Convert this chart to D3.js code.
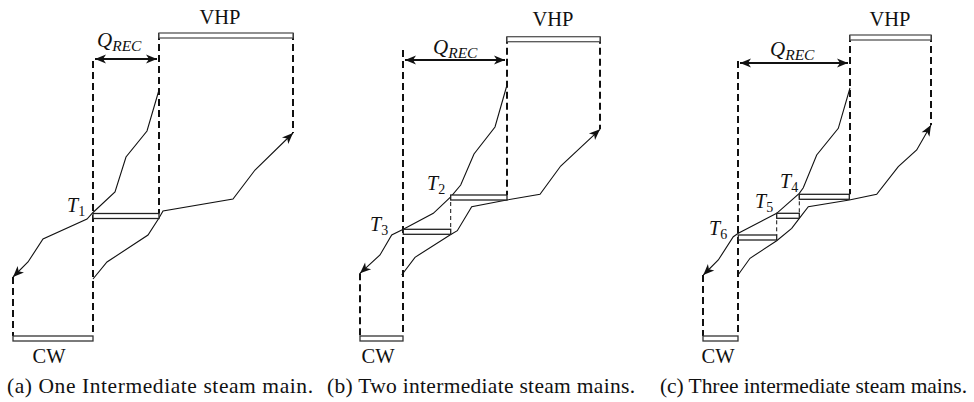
<!DOCTYPE html>
<html><head><meta charset="utf-8">
<script src="https://cdn.jsdelivr.net/npm/d3@7"></script>
<style>
body{margin:0;background:#fff}
svg{display:block}
text{font-family:"Liberation Serif","Times New Roman",serif;fill:#111}
</style>
</head><body><svg id="chart" width="974" height="402"></svg>
<script>
// ---------- data (Q = heat load units from CW start, T = temperature units) ----------
const captions = ["(a) One Intermediate steam main.", "(b) Two intermediate steam mains.", "(c) Three intermediate steam mains."];
const cwRange = [[0, 80], [0, 43], [0, 35]];
const cwLevel = [14, 14, 14];
const vhpRange = [[146, 280], [147, 240], [147, 228]];
const vhpLevel = [317, 313.3, 315];
const qrecRange = [[80, 146], [43, 147], [35, 147]];
const qrecLevel = [291, 290, 287];
const qrecGuideTop = [289, 300, 289];
const mainLabels = [["1"], ["2", "3"], ["4", "5", "6"]];
const mainRanges = [
  [[80, 146]],
  [[90.7, 147], [43.3, 90.7]],
  [[96.3, 146.3], [73.7, 96.3], [35.3, 73.7]]
];
const mainLevels = [[136.5], [155, 120.7], [155.7, 136.7, 115]];
const hotQ = [
  [146, 134, 113, 102, 80, 74, 30, 15, 0],
  [147, 135, 114, 100.7, 91, 73.3, 43.3, 31.7, 20, 0],
  [147, 135.3, 113.7, 100.3, 96.3, 73.7, 35.3, 30.3, 15.3, 0.3]
];
const hotT = [
  [260, 219, 193, 158, 137.5, 131, 111, 88, 73],
  [265, 223, 196, 165, 153.3, 136.7, 120.7, 115, 95, 76.7],
  [262, 221.7, 195, 162.3, 156.7, 136.7, 116.7, 113.3, 90, 75]
];
const coldQ = [
  [80, 94, 135, 146, 150, 220, 242, 280],
  [41.7, 55, 90, 97.3, 111.7, 146.7, 180, 200.7, 240],
  [34.3, 47, 73.7, 88.7, 96.3, 105.3, 146.3, 173.7, 195.3, 213.7, 228]
];
const coldT = [
  [71, 88, 115, 132, 139, 151, 180, 217],
  [75, 92.7, 115, 119.3, 143.3, 150, 155.7, 184, 220.7],
  [74, 91.7, 109.3, 121.7, 131.7, 143.3, 150, 155.7, 183.3, 200, 225]
];

// ---------- layout ----------
const panelLeft = [13, 360, 703];
const barH = 5;
const vhpLabelPos = [[220, 24], [553, 26], [890, 26]];
const cwLabelPos = [[49, 363], [378, 363], [718, 363]];
const qrecLabelPos = [[97, 47], [433, 53.5], [770, 55.5]];
const tLabelPos = [[[67, 212]], [[427, 190], [370, 231]], [[780, 188], [755, 207.5], [709, 235]]];
const captionPos = [[7, 393], [327, 393], [660, 393]];
const captionWidth = [306, 308, 307];

const svg = d3.select("#chart");
const defs = svg.append("defs");
defs.append("marker").attr("id", "ah").attr("viewBox", "-12 -6 13 12")
  .attr("refX", 0).attr("refY", 0).attr("markerWidth", 13).attr("markerHeight", 12)
  .attr("markerUnits", "userSpaceOnUse").attr("orient", "auto-start-reverse")
  .append("path").attr("d", "M0,0L-11,-4.5L-8,0L-11,4.5Z").attr("fill", "#111");

const y = d3.scaleLinear().domain([0, 320]).range([350, 30]);

captions.forEach((cap, p) => {
  const x = d3.scaleLinear().domain([0, 300]).range([panelLeft[p], panelLeft[p] + 300]);
  const g = svg.append("g");
  const line = d3.line().x(d => x(d[0])).y(d => y(d[1]));

  const dashed = (q, t0, t1, thin) => g.append("line")
    .attr("x1", x(q)).attr("x2", x(q)).attr("y1", y(t0)).attr("y2", y(t1))
    .attr("stroke", "#111").attr("stroke-width", thin ? 1 : 2)
    .attr("stroke-dasharray", thin ? "4,3" : "7,4");

  // guide dashed lines
  dashed(qrecRange[p][0], qrecGuideTop[p], cwLevel[p], false);
  dashed(vhpRange[p][0], vhpLevel[p], mainLevels[p][0], false);
  dashed(vhpRange[p][1], vhpLevel[p], coldT[p][coldT[p].length - 1], false);
  dashed(cwRange[p][0], hotT[p][hotT[p].length - 1], cwLevel[p], false);
  for (let i = 0; i < mainRanges[p].length - 1; i++) {
    dashed(mainRanges[p][i][0], mainLevels[p][i], mainLevels[p][i + 1], true);
  }

  // composite curves
  const hot = hotQ[p].map((q, i) => [q, hotT[p][i]]);
  const cold = coldQ[p].map((q, i) => [q, coldT[p][i]]);
  [hot, cold].forEach(pts => g.append("path").attr("d", line(pts))
    .attr("fill", "none").attr("stroke", "#111").attr("stroke-width", 1.1)
    .attr("marker-end", "url(#ah)"));

  // steam main bars
  const bar = (r, t, col) => g.append("rect")
    .attr("x", x(r[0])).attr("y", y(t)).attr("width", x(r[1]) - x(r[0])).attr("height", barH)
    .attr("fill", "#fff").attr("stroke", col).attr("stroke-width", 1.3);
  bar(cwRange[p], cwLevel[p], "#333");
  bar(vhpRange[p], vhpLevel[p], "#555");
  mainRanges[p].forEach((r, i) => bar(r, mainLevels[p][i], "#222"));

  // Q_REC arrow
  g.append("line").attr("x1", x(qrecRange[p][0]) + 2).attr("x2", x(qrecRange[p][1]) - 2)
    .attr("y1", y(qrecLevel[p])).attr("y2", y(qrecLevel[p]))
    .attr("stroke", "#111").attr("stroke-width", 2)
    .attr("marker-start", "url(#ah)").attr("marker-end", "url(#ah)");

  // labels
  g.append("text").attr("x", vhpLabelPos[p][0]).attr("y", vhpLabelPos[p][1])
    .attr("text-anchor", "middle").attr("font-size", 20.5).text("VHP");
  g.append("text").attr("x", cwLabelPos[p][0]).attr("y", cwLabelPos[p][1])
    .attr("text-anchor", "middle").attr("font-size", 20.5).text("CW");
  const qt = g.append("text").attr("x", qrecLabelPos[p][0]).attr("y", qrecLabelPos[p][1])
    .attr("font-style", "italic");
  qt.append("tspan").attr("font-size", 21).text("Q");
  qt.append("tspan").attr("font-size", 15.5).attr("dy", 4).text("REC");
  mainLabels[p].forEach((lab, i) => {
    const t = g.append("text").attr("x", tLabelPos[p][i][0]).attr("y", tLabelPos[p][i][1]);
    t.append("tspan").attr("font-size", 20).attr("font-style", "italic").text("T");
    t.append("tspan").attr("font-size", 14).attr("dy", 4).text(lab);
  });
  g.append("text").attr("x", captionPos[p][0]).attr("y", captionPos[p][1])
    .attr("font-size", 21.5).attr("textLength", captionWidth[p]).attr("lengthAdjust", "spacing")
    .text(cap);
});
</script>
</body></html>
